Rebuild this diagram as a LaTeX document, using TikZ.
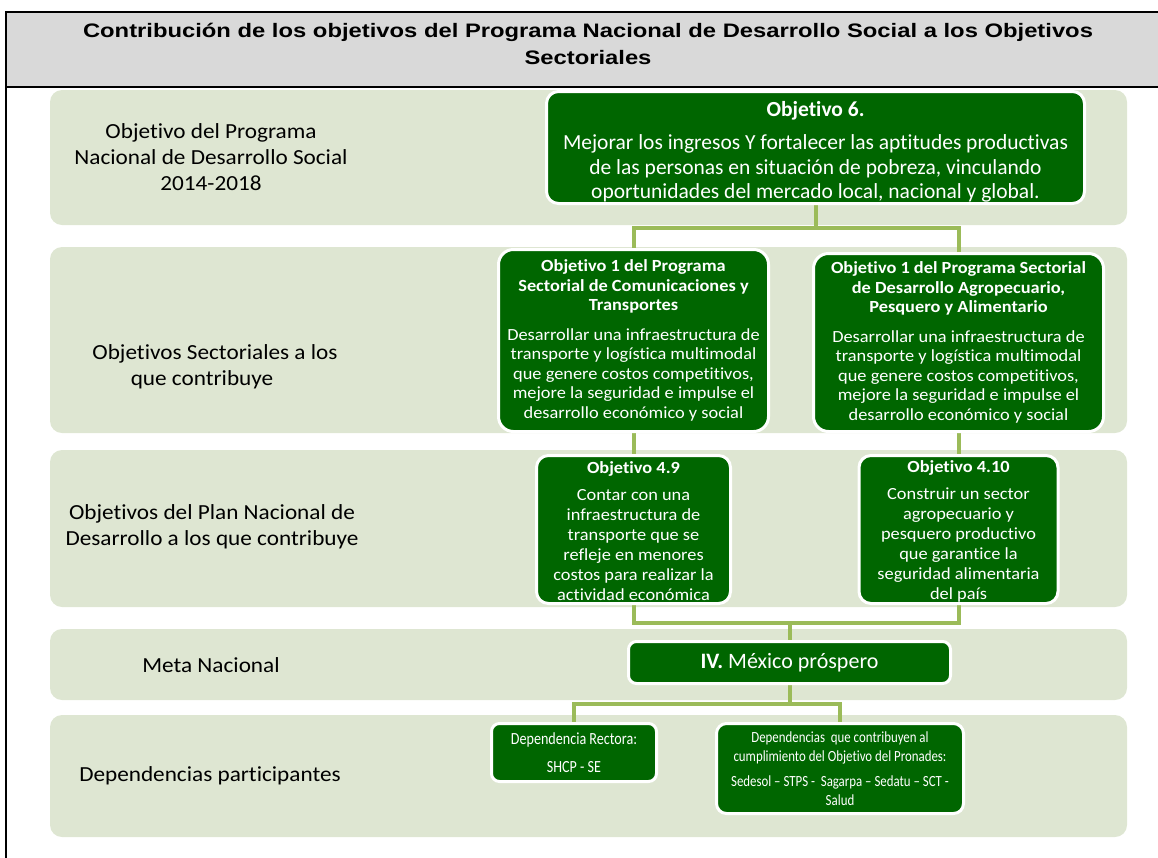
\documentclass[tikz,border=0pt]{standalone}
\usepackage{fontspec}
\setmainfont[Ligatures=NoCommon]{Carlito}
\newfontfamily\headfont[FakeStretch=1.22]{Liberation Sans}
\newfontfamily\widefont[FakeStretch=1.08,Ligatures=NoCommon]{Carlito}
\newfontfamily\narrowfont[FakeStretch=0.83,Ligatures=NoCommon]{Carlito}
\usetikzlibrary{backgrounds}
\definecolor{bandfill}{RGB}{222,230,210}
\definecolor{boxgreen}{RGB}{0,102,0}
\definecolor{linkgreen}{RGB}{155,187,89}
\definecolor{headgray}{RGB}{217,217,217}
\tikzstyle{band}=[fill=bandfill, rounded corners=12pt]
\tikzstyle{gbox}=[fill=boxgreen, draw=white, line width=3pt, rounded corners=12pt, text=white, align=center, inner sep=0pt]
\tikzstyle{lbl}=[align=center, text=black, inner sep=0pt, font={\widefont\fontsize{21.5}{26}\selectfont}]
\tikzstyle{link}=[draw=linkgreen, line width=4pt]

\begin{document}
\begin{tikzpicture}[x=1pt,y=-1pt]
\useasboundingbox (0,0) rectangle (1158,857);
% header
\fill[headgray] (6,12) rectangle (1162,87);
\draw[line width=2pt] (1162,12) -- (6,12) -- (6,860);
\draw[line width=2pt] (6,87) -- (1162,87);
\node[align=center, inner sep=0pt, font={\headfont\bfseries\fontsize{19.5}{27}\selectfont}] (head) at (588,44)
  {Contribución de los objetivos del Programa Nacional de Desarrollo Social a los Objetivos\\Sectoriales};
% row labels
\node[lbl] (lprog) at (211,157) {Objetivo del Programa\\Nacional de Desarrollo Social\\2014-2018};
\node[lbl] (lsect) at (215,367) {Objetivos Sectoriales a los\\que contribuye\hspace*{26pt}};
\node[lbl] (lplan) at (212,527) {Objetivos del Plan Nacional de\\Desarrollo a los que contribuye};
\node[lbl] (lmeta) at (211,665) {Meta Nacional};
\node[lbl] (ldep) at (210,776) {Dependencias participantes};
% green boxes
\node[gbox, minimum width=538pt, minimum height=112pt, font={\fontsize{21.5}{24.5}\selectfont}] (obj6) at (815.5,147.5)
  {\textbf{Objetivo 6.}\rule{0pt}{24pt}\\[9pt]Mejorar los ingresos Y fortalecer las aptitudes productivas\\de las personas en situación de pobreza, vinculando\\oportunidades del mercado local, nacional y global.};
\node[gbox, minimum width=270pt, minimum height=182pt, rounded corners=15pt, font={\widefont\fontsize{17}{19.5}\selectfont}] (sct) at (633.5,340.5)
  {\textbf{Objetivo 1 del Programa}\\\textbf{Sectorial de Comunicaciones y}\\\textbf{Transportes}\\[10pt]Desarrollar una infraestructura de\\transporte y logística multimodal\\que genere costos competitivos,\\mejore la seguridad e impulse el\\desarrollo económico y social};
\node[gbox, minimum width=290pt, minimum height=178pt, rounded corners=15pt, font={\widefont\fontsize{17}{19.5}\selectfont}] (agro) at (958.5,342.5)
  {\textbf{Objetivo 1 del Programa Sectorial}\\\textbf{de Desarrollo Agropecuario,}\\\textbf{Pesquero y Alimentario}\\[10pt]Desarrollar una infraestructura de\\transporte y logística multimodal\\que genere costos competitivos,\\mejore la seguridad e impulse el\\desarrollo económico y social};
\node[gbox, minimum width=194pt, minimum height=148pt, font={\widefont\fontsize{17}{20}\selectfont}] (pnd49) at (633.5,529.5)
  {\textbf{Objetivo 4.9}\rule{0pt}{16pt}\\[7pt]Contar con una\\infraestructura de\\transporte que se\\refleje en menores\\costos para realizar la\\actividad económica};
\node[gbox, minimum width=199pt, minimum height=148pt, font={\widefont\fontsize{17}{20}\selectfont}] (pnd410) at (958.5,529.5)
  {\textbf{Objetivo 4.10}\rule{0pt}{16pt}\\[7pt]Construir un sector\\agropecuario y\\pesquero productivo\\que garantice la\\seguridad alimentaria\\del país};
\node[gbox, minimum width=322pt, minimum height=42pt, rounded corners=8pt, font={\fontsize{22}{26}\selectfont}] (meta) at (789.5,662.5)
  {\textbf{IV.} México próspero};
\node[gbox, minimum width=165pt, minimum height=58pt, rounded corners=8pt, font={\narrowfont\fontsize{17}{20}\selectfont}] (rect) at (574,752.5)
  {Dependencia Rectora:\\[8pt]SHCP - SE};
\node[gbox, minimum width=247pt, minimum height=90pt, rounded corners=10pt, font={\narrowfont\fontsize{15.5}{19}\selectfont}] (contr) at (840,768.5)
  {Dependencias\ \ que contribuyen al\\cumplimiento del Objetivo del Pronades:\\[6pt]Sedesol – STPS -\ \ Sagarpa – Sedatu – SCT -\\Salud};
% bands and connectors behind the boxes
\begin{pgfonlayer}{background}
\fill[band] (50,90) rectangle (1127,225);
\fill[band] (50,247) rectangle (1127,433);
\fill[band] (50,450) rectangle (1127,607);
\fill[band] (50,629) rectangle (1127,700);
\fill[band] (50,715) rectangle (1127,837);
\draw[link] (obj6.south) -- ++(0,23) -| (sct.north);
\draw[link] (obj6.south) -- ++(0,23) -| (agro.north);
\draw[link] (sct.south) -- (pnd49.north);
\draw[link] (agro.south) -- (pnd410.north);
\draw[link] (pnd49.south) -- ++(0,18) -| (meta.north);
\draw[link] (pnd410.south) -- ++(0,18) -| (meta.north);
\draw[link] (meta.south) -- ++(0,19) -| (rect.north);
\draw[link] (meta.south) -- ++(0,19) -| (contr.north);
\end{pgfonlayer}
\end{tikzpicture}
\end{document}
